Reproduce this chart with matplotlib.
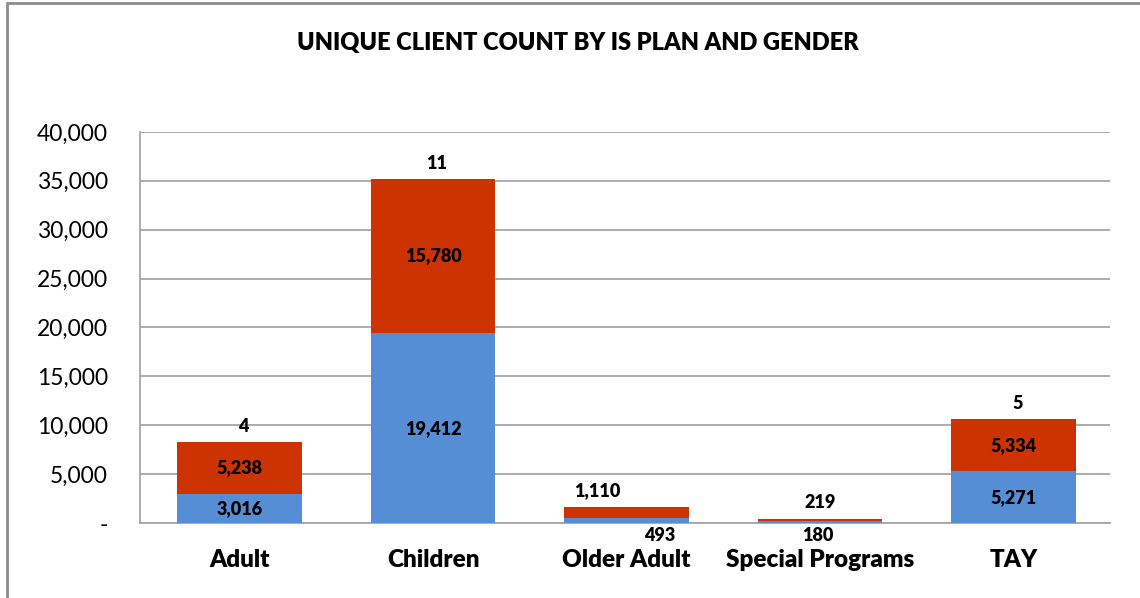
import matplotlib.pyplot as plt
from matplotlib.ticker import FuncFormatter
from matplotlib.patches import Rectangle

plt.rcParams['font.family'] = ['Lato', 'DejaVu Sans']

# Data
plans = ['Adult', 'Children', 'Older Adult', 'Special Programs', 'TAY']
blue_vals = [3016, 19412, 493, 180, 5271]
red_vals = [5238, 15780, 1110, 219, 5334]
green_vals = [4, 11, 0, 0, 5]

blue_c = '#558ED5'
red_c = '#CC3300'
green_c = '#9BBB59'

fig = plt.figure(figsize=(11.4, 5.98), dpi=100)
ax = fig.add_axes([0.1228, 0.1254, 0.851, 0.654])

x = range(len(plans))
w = 0.645
ax.bar(x, blue_vals, width=w, color=blue_c, zorder=3)
ax.bar(x, red_vals, width=w, bottom=blue_vals, color=red_c, zorder=3)
tops = [b + r for b, r in zip(blue_vals, red_vals)]
ax.bar(x, green_vals, width=w, bottom=tops, color=green_c, zorder=3)

# value labels
lab = dict(ha='center', va='center', fontsize=13, fontweight='heavy', color='black')
for i in x:
    b, r, g = blue_vals[i], red_vals[i], green_vals[i]
    if b > 2000:
        ax.text(i, b / 2, f'{b:,}', **lab)
        ax.text(i, b + r / 2, f'{r:,}', **lab)
    else:
        dx = -0.15 if i == 2 else 0.0
        ax.annotate(f'{r:,}', (i + dx, b + r), xytext=(0, 12), textcoords='offset points', **lab)
        dx2 = 0.17 if i == 2 else -0.01
        ax.annotate(f'{b:,}', (i + dx2, 0), xytext=(0, -9), textcoords='offset points', **lab)
    if g > 0:
        ax.annotate(f'{g:,}', (i + 0.02, b + r + g), xytext=(0, 11), textcoords='offset points', **lab)

ax.set_xlim(-0.515, 4.5)
ax.set_ylim(0, 40000)
ax.set_yticks(range(0, 40001, 5000))
ax.yaxis.set_major_formatter(FuncFormatter(lambda v, p: '-' if v == 0 else f'{int(v):,}'))
ax.grid(axis='y', color='#A6A6A6', linewidth=1.3, zorder=0)
ax.set_xticks(list(x))
ax.set_xticklabels(plans, fontsize=17.5, fontweight='heavy')
ax.tick_params(axis='x', length=0, pad=19)
ax.tick_params(axis='y', length=0, labelsize=16.5, pad=23)
for s in ['top', 'right']:
    ax.spines[s].set_visible(False)
ax.spines['left'].set_color('#A6A6A6')
ax.spines['bottom'].set_color('#A6A6A6')
ax.spines['left'].set_linewidth(1.3)
ax.spines['bottom'].set_linewidth(1.3)

fig.text(0.507, 0.928, 'UNIQUE CLIENT COUNT BY IS PLAN AND GENDER', ha='center', va='center',
         fontsize=17, fontweight='heavy')

# outer chart border
fig.patches.append(Rectangle((0.006, -0.1), 1.2, 1.095, transform=fig.transFigure,
                             fill=False, edgecolor='#8C8C8C', linewidth=2))

fig.savefig('out.png', dpi=100)
